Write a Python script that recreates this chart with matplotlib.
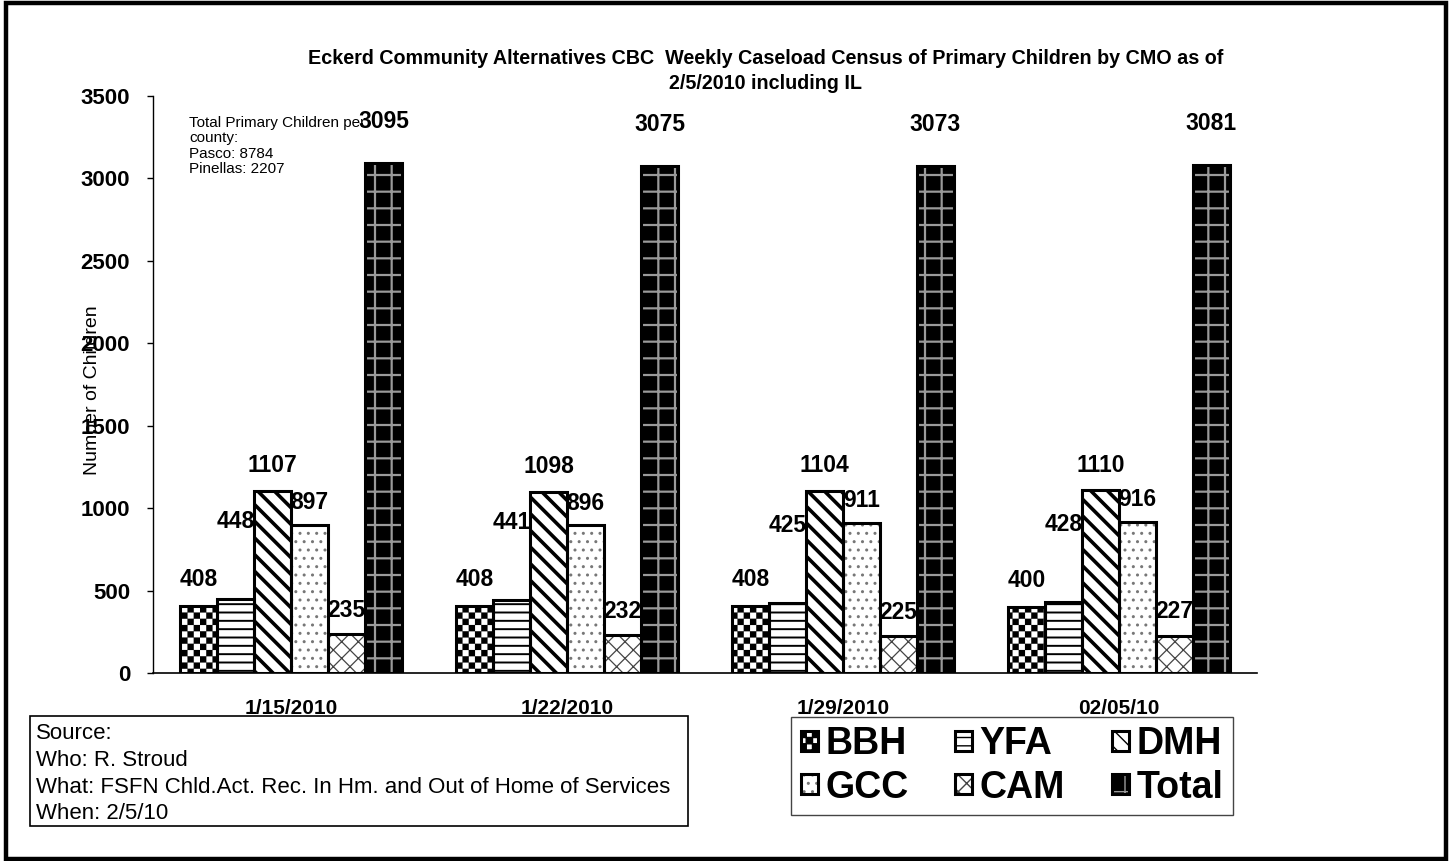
import numpy as np
import matplotlib
matplotlib.use('Agg')
import matplotlib.pyplot as plt
from matplotlib import hatch as mhatch
from matplotlib.path import Path
from matplotlib.patches import Rectangle

plt.rcParams['font.family'] = ['Liberation Sans', 'DejaVu Sans']

# data
dates = ['1/15/2010', '1/22/2010', '1/29/2010', '02/05/10']
series = ['BBH', 'YFA', 'DMH', 'GCC', 'CAM', 'Total']
bbh = [408, 408, 408, 400]
yfa = [448, 441, 425, 428]
dmh = [1107, 1098, 1104, 1110]
gcc = [897, 896, 911, 916]
cam = [235, 232, 225, 227]
total = [3095, 3075, 3073, 3081]
values = [bbh, yfa, dmh, gcc, cam, total]

title = ('Eckerd Community Alternatives CBC  Weekly Caseload Census of Primary Children by CMO as of\n'
         '2/5/2010 including IL')
note = 'Total Primary Children per\ncounty:\nPasco: 8784\nPinellas: 2207'
source = ('Source:\nWho: R. Stroud\n'
          'What: FSFN Chld.Act. Rec. In Hm. and Out of Home of Services\nWhen: 2/5/10')


# checkerboard hatch, hooked onto the '*' character
class CheckerHatch(mhatch.HatchPatternBase):
    filled = True

    def __init__(self, hatch, density):
        self.n = 16 * hatch.count('*')
        self.num_vertices = (self.n * self.n // 2) * 5

    def set_vertices_and_codes(self, vertices, codes):
        k = 0
        s = 1.0 / self.n
        for i in range(self.n):
            for j in range(self.n):
                if (i + j) % 2 == 0:
                    x0, y0 = i * s, j * s
                    vertices[k:k + 5] = [(x0, y0), (x0 + s, y0), (x0 + s, y0 + s),
                                         (x0, y0 + s), (x0, y0)]
                    codes[k:k + 5] = [Path.MOVETO, Path.LINETO, Path.LINETO,
                                      Path.LINETO, Path.CLOSEPOLY]
                    k += 5


mhatch._hatch_types = [h for h in mhatch._hatch_types if h.__name__ != 'Stars'] + [CheckerHatch]

# styles: (face, hatch, hatch colour, hatch linewidth)
styles = [
    ('white', '*', 'black', 0.1),
    ('white', '--', 'black', 1.4),
    ('white', '\\\\', 'black', 2.6),
    ('white', '..', '#777777', 1.0),
    ('white', 'xx', '#444444', 0.9),
    ('black', '+', '#9a9a9a', 1.6),
]
label_off = [19, 56, 18, 16, 17, 30]

fig = plt.figure(figsize=(14.51, 8.61), dpi=100)
ax = fig.add_axes([153 / 1451, 1 - 673 / 861, (1257 - 153) / 1451, (673 - 96) / 861])

x = np.arange(len(dates))
w = 0.134
handles = []
for k, (name, vals) in enumerate(zip(series, values)):
    face, hat, hcol, hlw = styles[k]
    pos = x + (k - 2.5) * w
    with plt.rc_context({'hatch.linewidth': hlw}):
        hb = ax.bar(pos, vals, w, color=face, edgecolor=hcol, hatch=hat, linewidth=0, zorder=2)
    for p in hb:
        if hasattr(p, 'set_hatch_linewidth'):
            p.set_hatch_linewidth(hlw)
    ob = ax.bar(pos, vals, w, color='none', edgecolor='black', linewidth=2.2, zorder=3)
    handles.append((hb, ob))
    for xi, v in zip(pos, vals):
        ax.annotate(str(v), (xi, v), xytext=(0, label_off[k]), textcoords='offset points',
                    ha='center', va='center', fontsize=16.5, fontweight='bold', zorder=4)

ax.set_xlim(-0.5, 3.5)
ax.set_ylim(0, 3500)
ax.set_yticks(range(0, 3501, 500))
ax.set_xticks(x)
ax.set_xticklabels(dates)
for s in ['top', 'right']:
    ax.spines[s].set_visible(False)
ax.spines['left'].set_linewidth(1)
ax.spines['bottom'].set_linewidth(1.2)
ax.tick_params(axis='y', length=4.5, width=1, pad=12, labelsize=16)
ax.tick_params(axis='x', length=0, pad=18.5, labelsize=15)
for t in ax.get_xticklabels() + ax.get_yticklabels():
    t.set_fontweight('bold')
ax.set_ylabel('Number of Children', fontsize=14)
ax.yaxis.set_label_coords(-0.047, 0.49)

fig.text(766 / 1451, 1 - 49 / 861, title, ha='center', va='top', fontsize=14.2,
         fontweight='bold', linespacing=1.4)

fig.text(189 / 1451, 1 - 116 / 861, note, ha='left', va='top', fontsize=11, linespacing=1.12)

# source box
fig.patches.append(Rectangle((30 / 1451, 1 - 826 / 861), 658 / 1451, 110 / 861,
                             transform=fig.transFigure, fill=False, edgecolor='black', lw=1.2))
fig.text(36 / 1451, 1 - 723 / 861, source, ha='left', va='top', fontsize=16, linespacing=1.36)

# outer border
fig.patches.append(Rectangle((6 / 1451, 2 / 861), 1440 / 1451, 856 / 861,
                             transform=fig.transFigure, fill=False, edgecolor='black', lw=3.2))

order = [0, 3, 1, 4, 2, 5]
leg = fig.legend([handles[i] for i in order], [series[i] for i in order], ncol=3,
                 loc='center', bbox_to_anchor=(1012 / 1451, 1 - 766 / 861),
                 prop={'size': 27, 'weight': 'bold'}, handlelength=0.45, handleheight=0.45,
                 handletextpad=0.2, columnspacing=1.25, labelspacing=0.2, borderpad=0.25,
                 fancybox=False, framealpha=1)
leg.get_frame().set_edgecolor('#444444')
leg.get_frame().set_linewidth(1)

fig.savefig('out.png', dpi=100)
